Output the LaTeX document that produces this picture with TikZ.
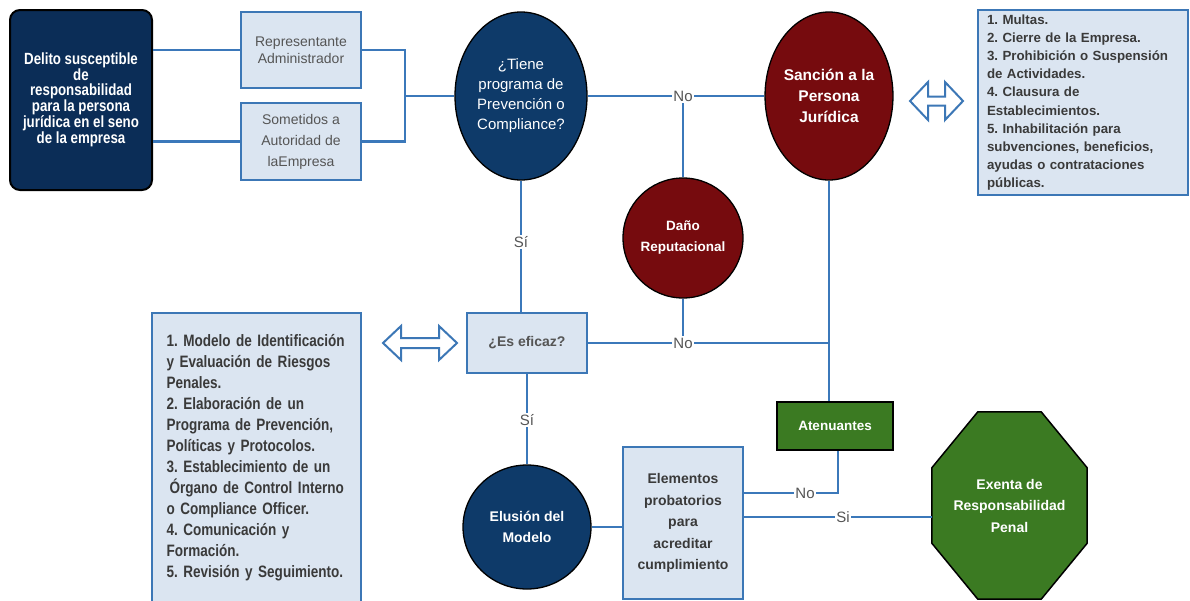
\documentclass[tikz,border=0pt]{standalone}
\usepackage{fontspec}
\setmainfont{Liberation Sans}
\newfontfamily\narrowfont[FakeStretch=0.82]{Liberation Sans}
\usetikzlibrary{calc,shapes.geometric}
\frenchspacing

\definecolor{navy}{HTML}{0E3A69}
\definecolor{navydark}{HTML}{0B2D57}
\definecolor{wine}{HTML}{760B0E}
\definecolor{leaf}{HTML}{3B7A22}
\definecolor{paleblue}{HTML}{DBE5F1}
\definecolor{frameblue}{HTML}{3C77B6}
\definecolor{wireblue}{HTML}{3B78BA}
\definecolor{greytext}{HTML}{555555}
\definecolor{darktext}{HTML}{3A3A3A}

% hollow double-headed arrow: centre x, centre y, half length, head length, head half-height, shaft half-height
\newcommand{\hollowarrow}[6]{%
  \draw[frameblue, line width=2pt, fill=white, line join=miter]
    (#1-#3,#2) -- (#1-#3+#4,#2-#5) -- (#1-#3+#4,#2-#6) -- (#1+#3-#4,#2-#6)
    -- (#1+#3-#4,#2-#5) -- (#1+#3,#2) -- (#1+#3-#4,#2+#5) -- (#1+#3-#4,#2+#6)
    -- (#1-#3+#4,#2+#6) -- (#1-#3+#4,#2+#5) -- cycle;}

\begin{document}
\begin{tikzpicture}[x=1pt, y=-1pt,
  conn/.style={draw=wireblue, line width=2.5pt},
  lightbox/.style={draw=frameblue, line width=2.2pt, fill=paleblue, align=center, inner sep=2pt},
  navyblock/.style={draw=black, line width=2pt, fill=navydark, rounded corners=10pt, align=center, text=white,
    font=\narrowfont\bfseries\fontsize{16.2}{14.6}\selectfont},
  navyoval/.style={ellipse, draw=black, line width=1.3pt, fill=navy, align=center, text=white, inner sep=0pt},
  wineoval/.style={ellipse, draw=black, line width=1.3pt, fill=wine, align=center, text=white, inner sep=0pt,
    font=\bfseries\fontsize{15.5}{21}\selectfont},
  greenblock/.style={draw=black, line width=1.5pt, fill=leaf, align=center, text=white,
    font=\bfseries\fontsize{13.5}{16}\selectfont},
  lbl/.style={fill=white, inner sep=1.5pt, text=greytext, font=\fontsize{15}{15}\selectfont}
]
\useasboundingbox (0,0) rectangle (1190,600);

% ---- nodes ----
\node[navyblock, minimum width=142pt, minimum height=180pt] (del) at (81,100)
  {Delito susceptible\\de\\responsabilidad\\para la persona\\jurídica en el seno\\de la empresa};

\node[lightbox, minimum width=120pt, minimum height=76pt, text=greytext,
  font=\fontsize{14}{17}\selectfont] (rep) at (301,50) {Representante\\Administrador};
\node[lightbox, minimum width=120pt, minimum height=77pt, text=greytext,
  font=\fontsize{14}{21}\selectfont] (som) at (301,141.5) {Sometidos a\\Autoridad de\\laEmpresa};

\node[navyoval, minimum width=132pt, minimum height=168pt, font=\fontsize{15}{20}\selectfont] (tiene) at (521,96)
  {¿Tiene\\programa de\\Prevención o\\Compliance?};

\node[wineoval, minimum width=122pt, minimum height=168pt] (sanc) at (829,96)
  {Sanción a la\\Persona\\Jurídica};

\node[wineoval, minimum width=120pt, minimum height=120pt, font=\bfseries\fontsize{13.5}{21}\selectfont] (dano) at (683,238)
  {Daño\\Reputacional};

\node[lightbox, minimum width=210pt, minimum height=185pt, text width=192pt, align=left, inner sep=0pt,
  text=darktext, font=\bfseries\fontsize{13.3}{18.2}\selectfont] (sanclist) at (1083,102.5)
  {1. Multas.\\2. Cierre de la Empresa.\\3. Prohibición o Suspensión\\de Actividades.\\4. Clausura de\\Establecimientos.\\5. Inhabilitación para\\subvenciones, beneficios,\\ayudas o contrataciones\\públicas.};

\node[lightbox, minimum width=120pt, minimum height=60pt, text=greytext,
  font=\bfseries\fontsize{14}{16}\selectfont] (es) at (527,343) {¿Es eficaz?};

\node[lightbox, minimum width=209pt, minimum height=290pt, text width=180pt, align=left, inner sep=0pt,
  text=darktext, font=\narrowfont\bfseries\fontsize{16.5}{21}\selectfont] (modlist) at (256.5,458)
  {1. Modelo de Identificación\\y Evaluación de Riesgos\\Penales.\\2. Elaboración de un\\Programa de Prevención,\\Políticas y Protocolos.\\3. Establecimiento de un\\\hspace*{3pt}Órgano de Control Interno\\o Compliance Officer.\\4. Comunicación y\\Formación.\\5. Revisión y Seguimiento.};

\node[navyoval, minimum width=128pt, minimum height=124pt, font=\bfseries\fontsize{14}{20.5}\selectfont] (elus) at (527,527)
  {Elusión del\\Modelo};

\node[lightbox, minimum width=120pt, minimum height=152pt, text=darktext,
  font=\bfseries\fontsize{14}{21.5}\selectfont] (elem) at (683,523)
  {Elementos\\probatorios\\para\\acreditar\\cumplimiento};

\node[greenblock, minimum width=116pt, minimum height=48pt] (aten) at (835,426) {Atenuantes};

% octagonal stop sign: an empty frame node carries the anchors, the outline is drawn from it
\node[minimum width=155pt, minimum height=187pt, inner sep=0pt] (oct) at (1009.5,505.5) {};
\draw[fill=leaf, draw=black, line width=1.5pt]
  ([xshift=46pt]oct.north west) -- ([xshift=-46pt]oct.north east)
  -- ([yshift=-56pt]oct.north east) -- ([yshift=56pt]oct.south east)
  -- ([xshift=-46pt]oct.south east) -- ([xshift=46pt]oct.south west)
  -- ([yshift=56pt]oct.south west) -- ([yshift=-56pt]oct.north west) -- cycle;
\node[align=center, text=white, font=\bfseries\fontsize{14}{21.5}\selectfont] (octtext) at (oct.center)
  {Exenta de\\Responsabilidad\\Penal};

% ---- connectors ----
\coordinate (jn) at (405,96);
\coordinate (n1) at (683,96);
\coordinate (noR) at (838,493);
\coordinate (siy) at (0,517);

\draw[conn] (del.east |- rep.west) -- (rep.west);
\draw[conn] (del.east |- som.west) -- (som.west);
\draw[conn] (rep.east) -| (jn) |- (som.east);
\draw[conn] (jn) -- (tiene.west);
\draw[conn] (tiene.east) -- (sanc.west);
\draw[conn] (n1) -- (dano.north);
\draw[conn] (tiene.south) -- (tiene.south |- es.north);
\draw[conn] (es.east) -- (es.east -| sanc.south);
\draw[conn] (dano.south) -- (dano.south |- es.east);
\draw[conn] (sanc.south) -- (sanc.south |- aten.north);
\draw[conn] (es.south) -- (es.south |- elus.north);
\draw[conn] (elus.east) -- (elus.east -| elem.west);
\draw[conn] (aten.south -| noR) -- (noR) -- (noR -| elem.east);
\draw[conn] (elem.east |- siy) -- (oct.west |- siy);

% ---- branch labels ----
\node[lbl] (lno1) at (n1) {No};
\node[lbl] (lsi1) at (521,242) {Sí};
\node[lbl] (lno2) at (683,343) {No};
\node[lbl] (lsi2) at (527,420) {Sí};
\node[lbl] (lno3) at (805,493) {No};
\node[lbl] (lsi3) at (843,517) {Si};

% ---- hollow double arrows ----
\hollowarrow{936.5}{101}{26.5}{18}{19}{4.5}
\hollowarrow{420}{343}{37}{18}{17}{5}
\end{tikzpicture}
\end{document}
